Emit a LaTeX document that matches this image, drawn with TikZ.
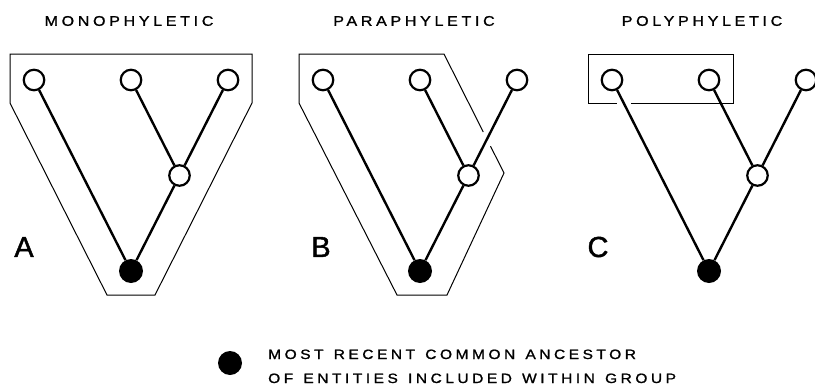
\documentclass[tikz,border=0pt]{standalone}
\usepackage{fontspec}
\setmainfont{Liberation Sans}
\newfontfamily\trackedfont[LetterSpace=26, FakeStretch=1.15, FakeBold=1.2, WordSpace=1.3]{Liberation Sans}
\newfontfamily\letterfont[FakeBold=1.5]{Liberation Sans}
\begin{document}
\begin{tikzpicture}[x=1pt,y=-1pt,
  leaf/.style={circle, draw, line width=2.2pt, fill=white, minimum size=20.5pt, inner sep=0pt},
  ancestor/.style={circle, fill=black, minimum size=24pt, inner sep=0pt},
  branch/.style={line width=2.4pt},
  hull/.style={line width=1pt, line join=miter},
  heading/.style={font=\trackedfont\fontsize{14}{16}\selectfont, inner sep=0pt},
  panelname/.style={font=\letterfont\fontsize{29}{29}\selectfont, inner sep=0pt},
  keytext/.style={font=\trackedfont\fontsize{13.5}{16}\selectfont, inner sep=0pt, anchor=base west}]

\clip (0,0) rectangle (815,386);

% group outlines
\draw[hull] (10,54) -- (252,54) -- (252,103) -- (155,295) -- (107,295) -- (10,103) -- cycle;
\begin{scope}[xshift=289pt]
  \draw[hull] (194.3,132) -- (155,54) -- (10,54) -- (10,103) -- (108,295) -- (158,295) -- (215,173) -- (201.5,146.2);
\end{scope}
\begin{scope}[xshift=578pt]
  \draw[hull] (38.7,103) -- (10,103) -- (10,54) -- (155,54) -- (155,103) -- (52.7,103);
\end{scope}

% the three trees
\foreach \p/\dx in {a/0, b/289, c/578} {
  \begin{scope}[xshift=\dx pt]
    \node[leaf] (\p1) at (34,80) {};
    \node[leaf] (\p2) at (131,80) {};
    \node[leaf] (\p3) at (228,80) {};
    \node[leaf] (\p4) at (179.5,175.5) {};
    \node[ancestor] (\p0) at (131,271) {};
    \draw[branch] (\p1) -- (\p0);
    \draw[branch] (\p2) -- (\p4);
    \draw[branch] (\p3) -- (\p4);
    \draw[branch] (\p4) -- (\p0);
  \end{scope}
}

% headings and panel letters
\node[heading] (ta) at (129,21) {MONOPHYLETIC};
\node[heading] (tb) at (414,21) {PARAPHYLETIC};
\node[heading] (tc) at (702,21) {POLYPHYLETIC};
\node[panelname] (la) at (24,247) {A};
\node[panelname] (lb) at (321,247) {B};
\node[panelname] (lc) at (598,247) {C};

% key
\node[ancestor] (key) at (230,363) {};
\node[keytext] (k1) at (268,359) {MOST RECENT COMMON ANCESTOR};
\node[keytext] (k2) at (268,383) {OF ENTITIES INCLUDED WITHIN GROUP};
\end{tikzpicture}
\end{document}
